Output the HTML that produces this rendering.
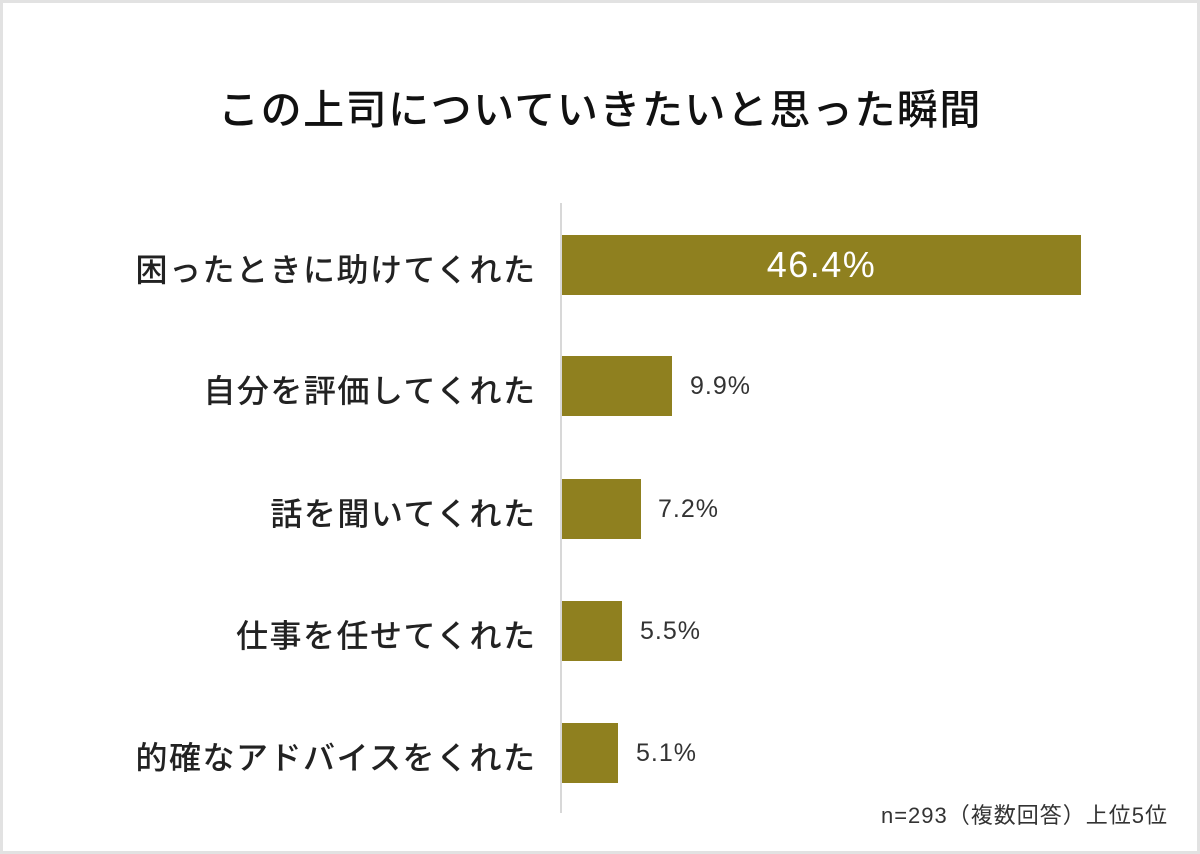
<!DOCTYPE html>
<html><head><meta charset="utf-8"><style>
body{margin:0;width:1200px;height:854px;background:#fff;overflow:hidden;font-family:"Liberation Sans","Noto Sans CJK JP",sans-serif;}
.frame{position:absolute;left:0;top:0;width:1194px;height:848px;border:3px solid #e2e2e2;}
.t{position:absolute;white-space:nowrap;color:#222;}
.bar{position:absolute;left:562px;height:60px;background:#8f801f;}
.lab{right:665px;font-size:32px;font-weight:500;letter-spacing:1.5px;margin-right:-1.5px;}
.v{font-size:25px;color:#333;letter-spacing:1px;}
</style></head><body>
<div class="frame"></div>
<div class="t" style="left:0;width:1200px;text-align:center;top:76px;font-size:41px;font-weight:500;color:#111;letter-spacing:1.5px">この上司についていきたいと思った瞬間</div>
<div style="position:absolute;left:560px;top:203px;width:2px;height:610px;background:#d8d8d8"></div>
<div class="bar" style="top:235px;width:519px"></div>
<div class="bar" style="top:356px;width:110px"></div>
<div class="bar" style="top:479px;width:79px"></div>
<div class="bar" style="top:601px;width:60px"></div>
<div class="bar" style="top:723px;width:56px"></div>
<div class="t lab" style="top:245px">困ったときに助けてくれた</div>
<div class="t lab" style="top:366px">自分を評価してくれた</div>
<div class="t lab" style="top:489px">話を聞いてくれた</div>
<div class="t lab" style="top:611px">仕事を任せてくれた</div>
<div class="t lab" style="top:733px">的確なアドバイスをくれた</div>
<div class="t" style="left:562px;width:519px;text-align:center;top:244px;font-size:36px;color:#fff;font-weight:500;letter-spacing:1.5px">46.4%</div>
<div class="t v" style="left:690px;top:372px">9.9%</div>
<div class="t v" style="left:658px;top:495px">7.2%</div>
<div class="t v" style="left:640px;top:617px">5.5%</div>
<div class="t v" style="left:636px;top:739px">5.1%</div>
<div class="t" style="right:32px;top:798px;font-size:22px;color:#333;letter-spacing:1px">n=293（複数回答）上位5位</div>
</body></html>
